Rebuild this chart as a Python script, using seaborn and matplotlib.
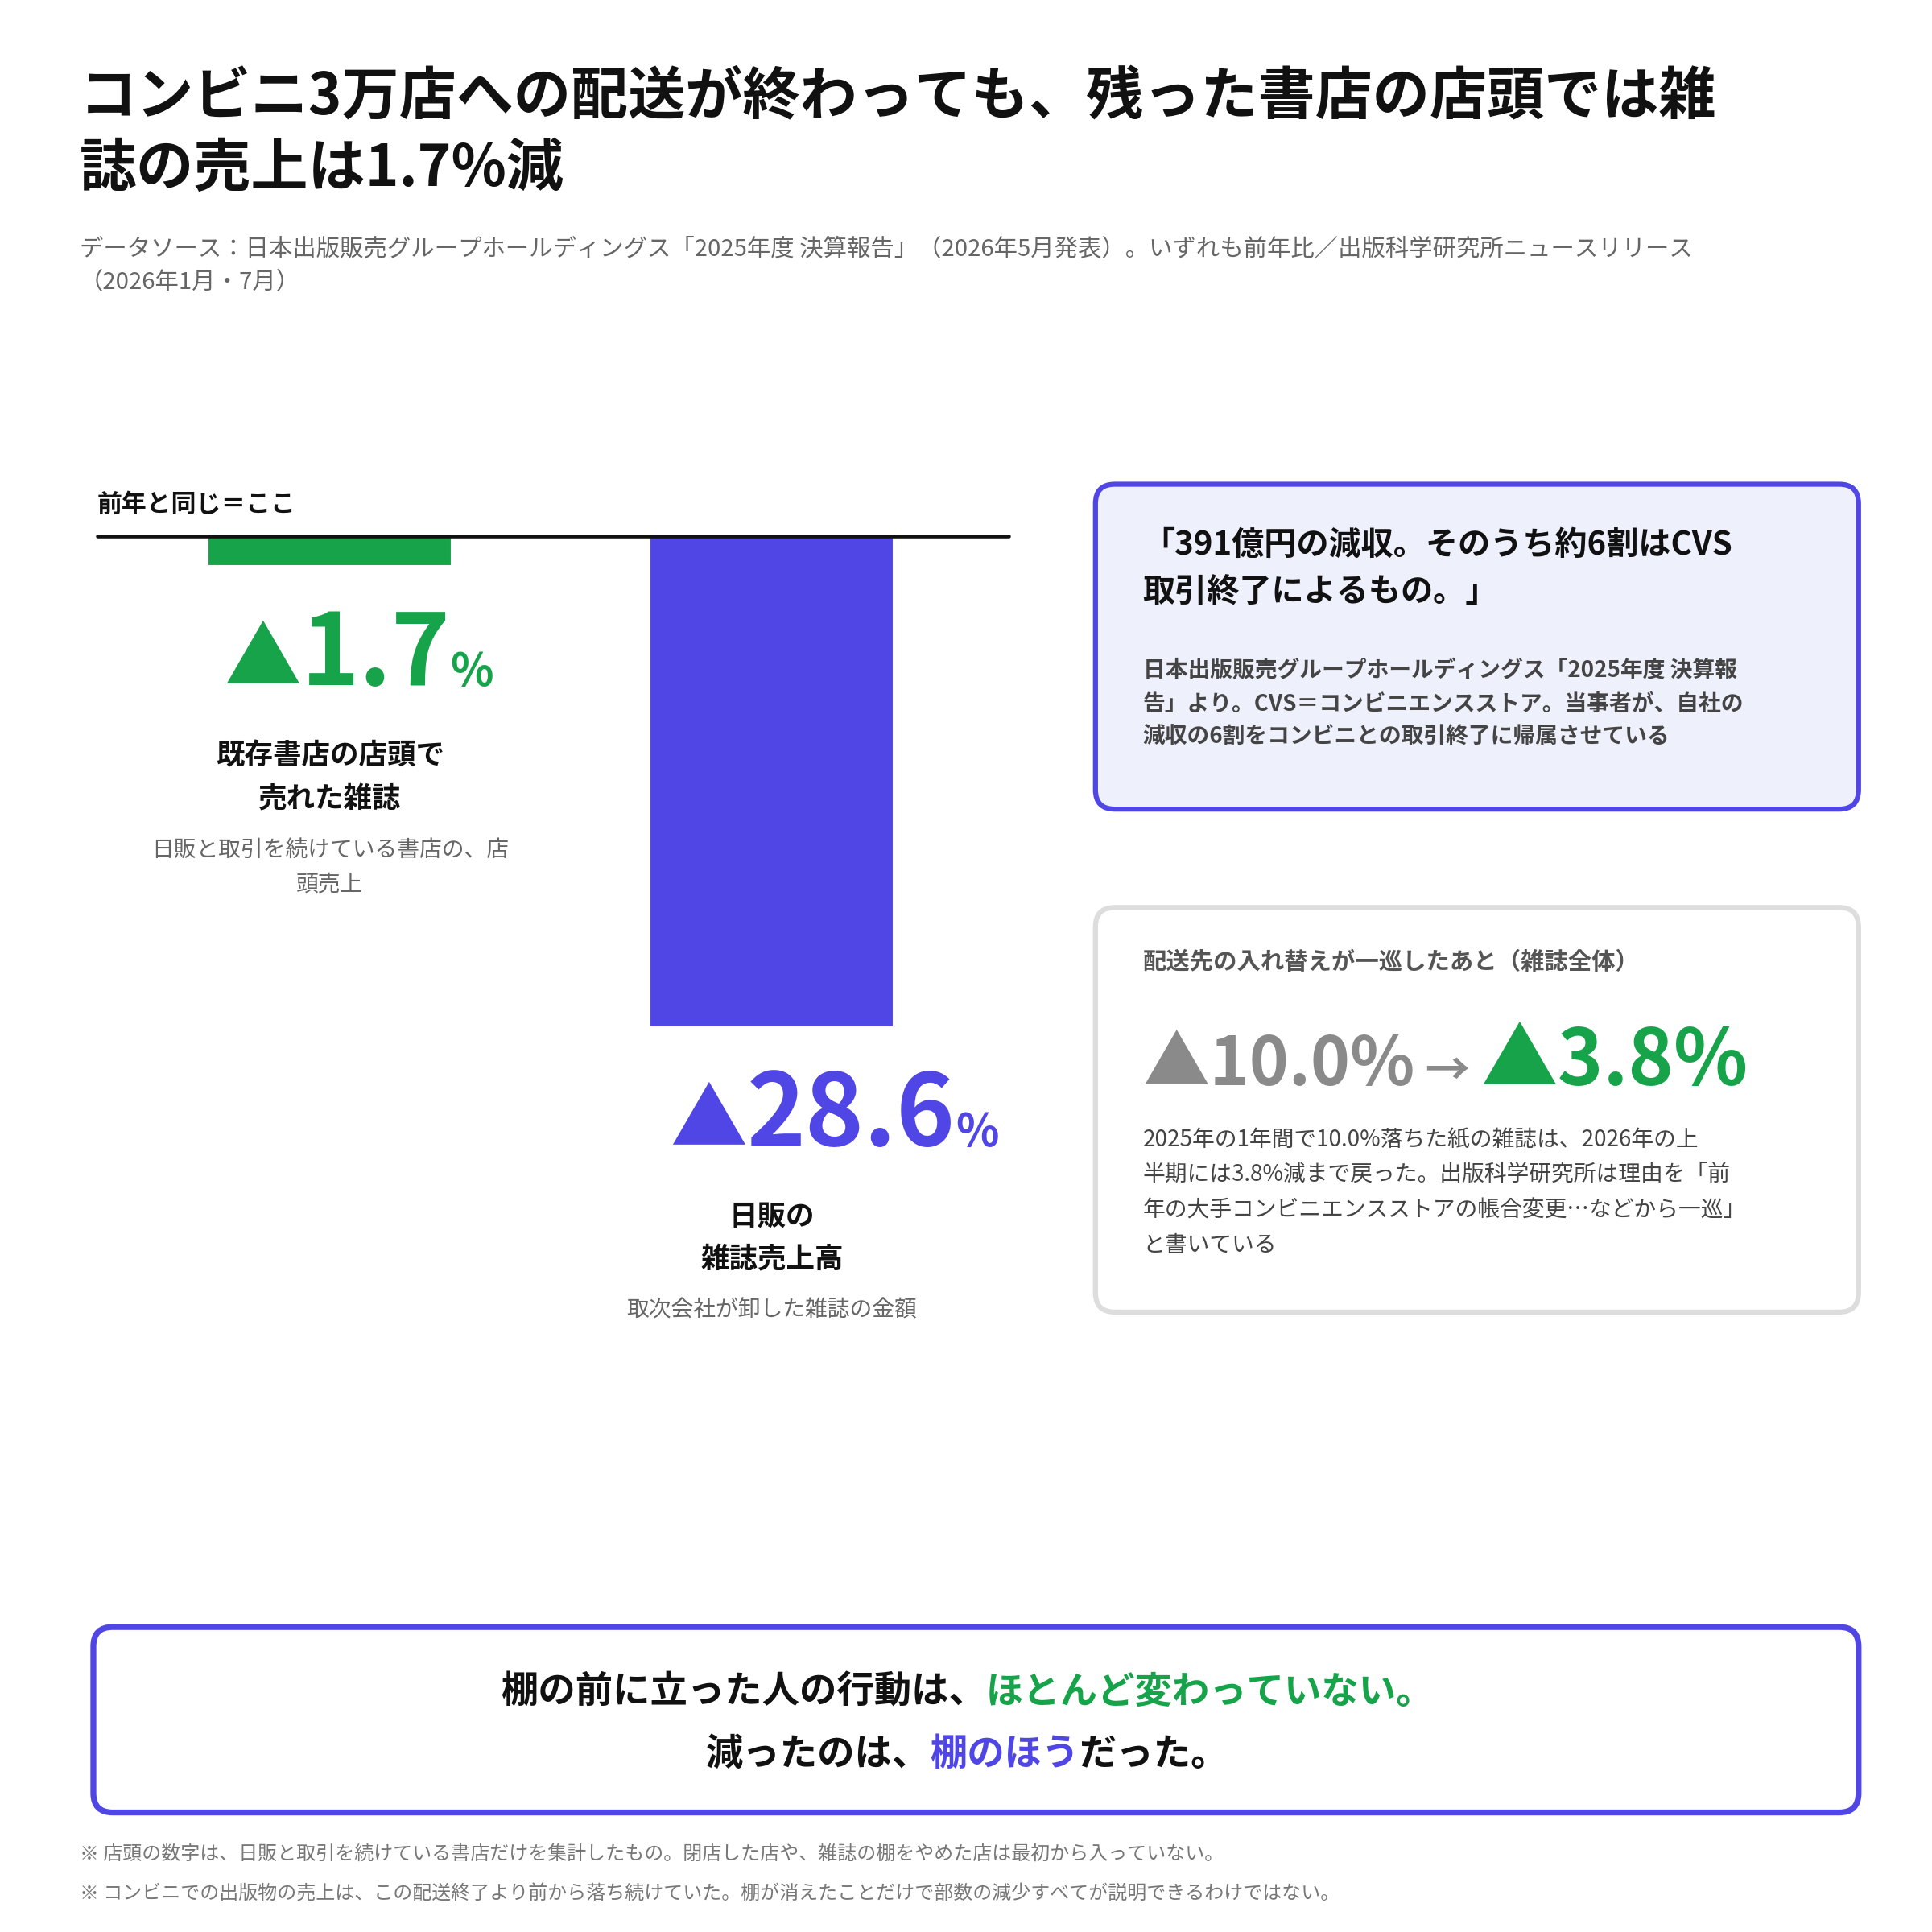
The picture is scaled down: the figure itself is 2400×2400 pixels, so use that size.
import matplotlib
matplotlib.use("Agg")
import matplotlib.pyplot as plt
import seaborn as sns
import pandas as pd
from matplotlib.patches import FancyBboxPatch

sns.set_theme(style="white")
plt.rcParams['font.family'] = ['Noto Sans CJK JP', 'DejaVu Sans']

categories = ["既存書店の店頭", "日販の雑誌売上高"]
values = [-1.7, -28.6]
colors = ["#16A34A", "#4F46E5"]

GREEN = "#16A34A"; PURPLE = "#4F46E5"; DARK = "#111111"; GRAY = "#666666"
S = 1552.0
fig = plt.figure(figsize=(16, 16), dpi=150)
fig.patch.set_facecolor("white")
def fx(x): return x / S
def fy(y): return 1 - y / S
def P(px): return px * 0.742

# bar axes
ax = fig.add_axes([fx(78), fy(825), fx(810) - fx(78), fy(431) - fy(825)])
df = pd.DataFrame({"cat": categories, "val": values})
sns.barplot(data=df, x="cat", y="val", hue="cat", palette=colors, width=0.552,
            legend=False, ax=ax, saturation=1)
ax.set_xlim(-0.527, 1.535)
ax.set_ylim(-28.6, 0)
ax.axis("off")
ax.axhline(0, color=DARK, lw=2.2, clip_on=False)

fig.canvas.draw()
R = fig.canvas.get_renderer()

def row(pieces, x, y, ha="left"):
    ts = []
    for txt, size, col in pieces:
        t = fig.text(0, fy(y), txt, fontsize=P(size), color=col, fontweight="bold", va="baseline")
        ts.append(t)
    ws = [t.get_window_extent(R).width / fig.bbox.width for t in ts]
    tot = sum(ws)
    cx = fx(x) - (tot / 2 if ha == "center" else 0)
    for t, w in zip(ts, ws):
        t.set_x(cx); cx += w

def txt(x, y, s, size, col=DARK, w="bold", ha="left", va="top", ls=1.5):
    fig.text(fx(x), fy(y), s, fontsize=P(size), color=col, fontweight=w, ha=ha, va=va, linespacing=ls)

# title
txt(64, 55, "コンビニ3万店への配送が終わっても、残った書店の店頭では雑\n誌の売上は1.7%減", 46, ls=1.3)
txt(64, 190, "データソース：日本出版販売グループホールディングス「2025年度 決算報告」（2026年5月発表）。いずれも前年比／出版科学研究所ニュースリリース\n（2026年1月・7月）", 19, GRAY, "normal", ls=1.5)

txt(78, 395, "前年と同じ＝ここ", 20)

row([("▲", 62, GREEN), ("1.7", 80, GREEN), ("%", 36, GREEN)], 288, 550, "center")
txt(265, 595, "既存書店の店頭で\n売れた雑誌", 23, ha="center", ls=1.55)
txt(265, 673, "日販と取引を続けている書店の、店\n頭売上", 18, GRAY, "normal", ha="center", ls=1.55)

row([("▲", 62, PURPLE), ("28.6", 80, PURPLE), ("%", 36, PURPLE)], 670, 920, "center")
txt(620, 965, "日販の\n雑誌売上高", 23, ha="center", ls=1.55)
txt(620, 1043, "取次会社が卸した雑誌の金額", 18, GRAY, "normal", ha="center")

def box(x0, y0, x1, y1, fc, ec, lw):
    fig.patches.append(FancyBboxPatch((fx(x0), fy(y1)), fx(x1) - fx(x0), fy(y0) - fy(y1),
        boxstyle="round,pad=0,rounding_size=0.01", transform=fig.transFigure,
        fc=fc, ec=ec, lw=lw))

box(880, 389, 1493, 650, "#EEF0FC", PURPLE, 3)
txt(918, 425, "「391億円の減収。そのうち約6割はCVS\n取引終了によるもの。」", 26, ls=1.55)
txt(918, 530, "日本出版販売グループホールディングス「2025年度 決算報\n告」より。CVS＝コンビニエンスストア。当事者が、自社の\n減収の6割をコンビニとの取引終了に帰属させている", 18, "#444444", "bold", ls=1.6)

box(880, 729, 1493, 1054, "white", "#DDDDDD", 3)
txt(918, 763, "配送先の入れ替えが一巡したあと（雑誌全体）", 19, "#555555")
row([("▲10.0%", 54, "#8A8A8A"), (" → ", 36, "#8A8A8A"), ("▲3.8%", 62, GREEN)], 918, 872)
txt(918, 906, "2025年の1年間で10.0%落ちた紙の雑誌は、2026年の上\n半期には3.8%減まで戻った。出版科学研究所は理由を「前\n年の大手コンビニエンスストアの帳合変更…などから一巡」\nと書いている", 18, "#444444", "normal", ls=1.6)

box(75, 1307, 1493, 1456, "white", PURPLE, 3.5)
row([("棚の前に立った人の行動は、", 30, DARK), ("ほとんど変わっていない。", 30, GREEN)], 777, 1368, "center")
row([("減ったのは、", 30, DARK), ("棚のほう", 30, PURPLE), ("だった。", 30, DARK)], 777, 1418, "center")

txt(64, 1482, "※ 店頭の数字は、日販と取引を続けている書店だけを集計したもの。閉店した店や、雑誌の棚をやめた店は最初から入っていない。", 15.5, "#777777", "normal")
txt(64, 1514, "※ コンビニでの出版物の売上は、この配送終了より前から落ち続けていた。棚が消えたことだけで部数の減少すべてが説明できるわけではない。", 15.5, "#777777", "normal")

fig.savefig("out.png", dpi=150)
